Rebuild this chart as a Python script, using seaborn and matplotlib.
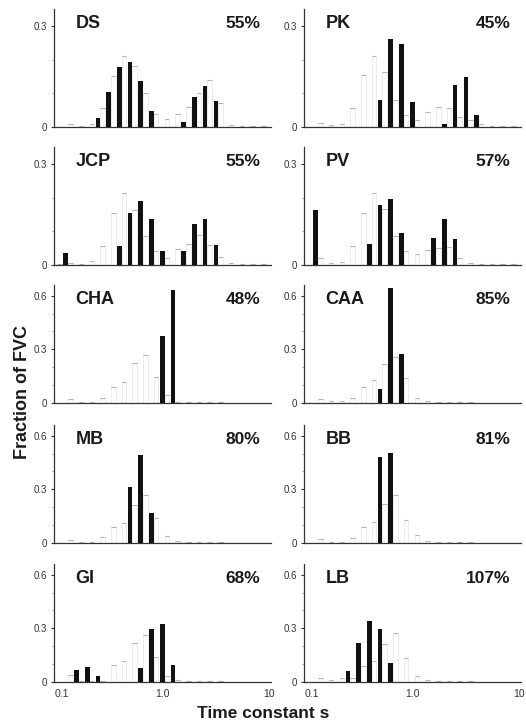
import numpy as np
import pandas as pd
import matplotlib
matplotlib.use("Agg")
import matplotlib.pyplot as plt
import seaborn as sns

# ---------------- data ----------------
tau_bins = ["0.10", "0.13", "0.16", "0.20", "0.25", "0.32", "0.40", "0.50", "0.63", "0.79",
            "1.00", "1.26", "1.58", "2.00", "2.51", "3.16", "3.98", "5.01", "6.31", "7.94", "10.0"]
tick_labels = ["0.1", "1.0", "10"]
tick_bins = ["0.10", "1.00", "10.0"]

names = ["DS", "PK", "JCP", "PV", "CHA", "CAA", "MB", "BB", "GI", "LB"]
percents = ["55%", "45%", "55%", "57%", "48%", "85%", "80%", "81%", "68%", "107%"]
ymax = [0.35, 0.35, 0.35, 0.35, 0.66, 0.66, 0.66, 0.66, 0.66, 0.66]

DS_black = [0, 0, 0, 0, .028, .105, .178, .192, .137, .048, 0, 0, .015, .088, .123, .076, 0, 0, 0, 0, 0]
DS_gray = [0, .01, .004, .01, .055, .15, .21, .18, .10, .04, .025, .04, .06, .10, .14, .07, .005, .003, .003, .003, 0]
PK_black = [0, 0, 0, 0, 0, 0, 0, .081, .26, .247, .074, 0, 0, .009, .124, .148, .037, 0, 0, 0, 0]
PK_gray = [0, .012, .005, .01, .055, .153, .21, .163, .08, .037, .02, .044, .06, .055, .03, .02, .01, .003, .003, .003, 0]
JCP_black = [0, .037, 0, 0, 0, 0, .057, .153, .19, .137, .042, 0, .043, .123, .137, .059, 0, 0, 0, 0, 0]
JCP_gray = [.003, .005, .003, .013, .055, .153, .215, .163, .085, .042, .02, .047, .062, .09, .06, .025, .005, .003, .003, .003, 0]
PV_black = [0, .162, 0, 0, 0, 0, .062, .179, .195, .095, 0, 0, .08, .135, .077, 0, 0, 0, 0, 0, 0]
PV_gray = [0, .02, .005, .01, .055, .155, .215, .165, .087, .042, .034, .045, .05, .052, .022, .005, .003, .003, .003, .003, 0]
CHA_black = [0, 0, 0, 0, 0, 0, 0, 0, 0, 0, .372, .632, 0, 0, 0, 0, 0, 0, 0, 0, 0]
CHA_gray = [0, .025, .005, .005, .03, .091, .116, .224, .266, .144, .044, .005, .005, .005, .005, .003, 0, 0, 0, 0, 0]
CAA_black = [0, 0, 0, 0, 0, 0, 0, .077, .646, .275, 0, 0, 0, 0, 0, 0, 0, 0, 0, 0, 0]
CAA_gray = [0, .025, .01, .01, .03, .088, .13, .22, .26, .14, .03, .01, .005, .005, .003, .003, 0, 0, 0, 0, 0]
MB_black = [0, 0, 0, 0, 0, 0, 0, .313, .491, .169, 0, 0, 0, 0, 0, 0, 0, 0, 0, 0, 0]
MB_gray = [0, .018, .005, .005, .031, .088, .114, .215, .267, .138, .04, .01, .005, .005, .003, .003, 0, 0, 0, 0, 0]
BB_black = [0, 0, 0, 0, 0, 0, 0, .482, .502, 0, 0, 0, 0, 0, 0, 0, 0, 0, 0, 0, 0]
BB_gray = [0, .024, .005, .005, .028, .088, .118, .22, .266, .13, .047, .01, .005, .005, .003, .003, 0, 0, 0, 0, 0]
GI_black = [0, 0, .067, .082, .033, 0, 0, 0, .076, .295, .327, .095, 0, 0, 0, 0, 0, 0, 0, 0, 0]
GI_gray = [0, .04, .005, .005, .005, .093, .117, .217, .264, .14, .036, .01, .005, .005, .003, .003, 0, 0, 0, 0, 0]
LB_black = [0, 0, 0, 0, .064, .219, .339, .296, .108, 0, 0, 0, 0, 0, 0, 0, 0, 0, 0, 0, 0]
LB_gray = [0, .025, .01, .02, .025, .09, .12, .215, .273, .137, .035, .01, .005, .005, .003, .003, 0, 0, 0, 0, 0]

black_series = [DS_black, PK_black, JCP_black, PV_black, CHA_black,
                CAA_black, MB_black, BB_black, GI_black, LB_black]
gray_series = [DS_gray, PK_gray, JCP_gray, PV_gray, CHA_gray,
               CAA_gray, MB_gray, BB_gray, GI_gray, LB_gray]

# ---------------- figure ----------------
sns.set_theme(style="white")
plt.rcParams["font.family"] = ["Liberation Sans", "DejaVu Sans"]

W, H = 526, 727
fig = plt.figure(figsize=(W / 100, H / 100), dpi=100)
fig.patch.set_facecolor("white")

col_left = [54, 304]
row_base = [127, 265, 403, 543, 682]
ax_w, ax_h = 217, 118
DODGE_W = 0.86

for p, name in enumerate(names):
    r, c = divmod(p, 2)
    ax = fig.add_axes([col_left[c] / W, 1 - row_base[r] / H, ax_w / W, ax_h / H])
    df = pd.DataFrame({
        "tau": tau_bins * 2,
        "frac": list(black_series[p]) + list(gray_series[p]),
        "series": ["fit"] * len(tau_bins) + ["ref"] * len(tau_bins),
    })
    sns.barplot(data=df, x="tau", y="frac", hue="series", order=tau_bins,
                hue_order=["fit", "ref"], palette={"fit": "#111111", "ref": "#ffffff"},
                dodge=True, width=DODGE_W, saturation=1, errorbar=None,
                legend=False, linewidth=0, ax=ax)
    # style reference (gray) bars as faint outlines with a dash on top
    for bar in ax.containers[1]:
        bar.set_facecolor("none")
        bar.set_edgecolor("#e4e4e4")
        bar.set_linewidth(0.5)
        bar.set_zorder(1)
        h = bar.get_height()
        if h > 0:
            x0 = bar.get_x()
            ax.plot([x0, x0 + bar.get_width()], [h, h], color="#b4b4b4", lw=0.8,
                    solid_capstyle="butt", zorder=2)
    for bar in ax.containers[0]:
        bar.set_zorder(3)

    shift = DODGE_W / 4
    ax.set_xlim(-shift - 0.1, len(tau_bins) - 1 - shift + 0.15)
    ax.set_ylim(0, ymax[p])
    ax.set_xlabel("")
    ax.set_ylabel("")

    if ymax[p] < 0.5:
        ax.set_yticks([0, 0.3])
        ax.set_yticklabels(["0", "0.3"])
        ax.set_yticks([0.1, 0.2], minor=True)
    else:
        ax.set_yticks([0, 0.3, 0.6])
        ax.set_yticklabels(["0", "0.3", "0.6"])
        ax.set_yticks([0.1, 0.2, 0.4, 0.5], minor=True)
    ax.tick_params(axis="y", which="major", length=2, width=0.8, pad=3,
                   labelsize=7, colors="#333333", left=True)
    ax.tick_params(axis="y", which="minor", length=1.5, width=0.5, left=True, color="#888888")

    tick_pos = [tau_bins.index(t) - shift for t in tick_bins]
    ax.set_xticks(tick_pos)
    if r == 4:
        ax.set_xticklabels(tick_labels)
        ax.tick_params(axis="x", length=0, pad=5, labelsize=7.5, colors="#333333")
        ax.get_xticklabels()[0].set_horizontalalignment("left")
    else:
        ax.set_xticklabels([])
        ax.tick_params(axis="x", length=0)

    for s in ["top", "right"]:
        ax.spines[s].set_visible(False)
    for s in ["left", "bottom"]:
        ax.spines[s].set_color("#333333")
        ax.spines[s].set_linewidth(0.9)

    ax.text(0.10, 0.875, name, transform=ax.transAxes, ha="left", va="center",
            fontsize=13, fontweight="bold", color="#1a1a1a")
    ax.text(0.95, 0.875, percents[p], transform=ax.transAxes, ha="right", va="center",
            fontsize=12.5, fontweight="bold", color="#1a1a1a")

fig.text(23 / W, 1 - 392 / H, "Fraction of FVC", rotation=90, ha="center", va="center",
         fontsize=13, fontweight="bold", color="#1a1a1a")
fig.text(263 / W, 1 - 714 / H, "Time constant s", ha="center", va="center",
         fontsize=12.5, fontweight="bold", color="#1a1a1a")

fig.savefig("out.png", dpi=100, facecolor="white")
